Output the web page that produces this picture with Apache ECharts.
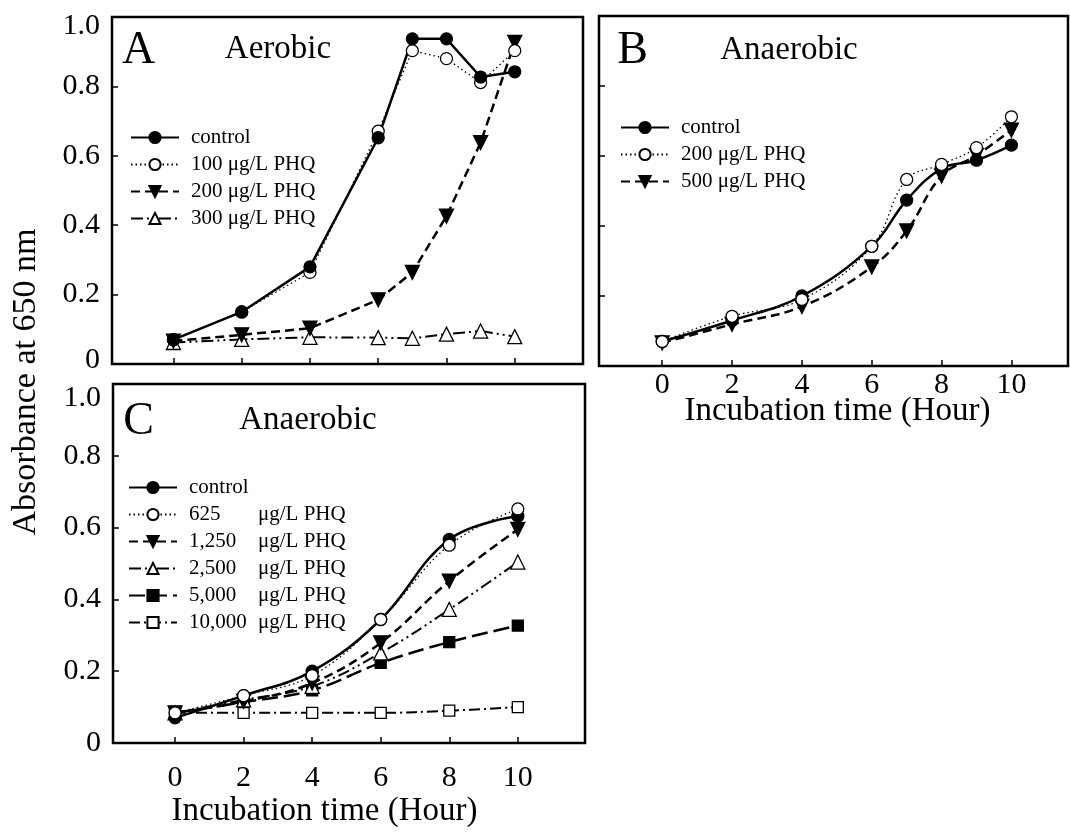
<!DOCTYPE html>
<html>
<head>
<meta charset="utf-8">
<script src="https://cdn.jsdelivr.net/npm/echarts@6/dist/echarts.min.js"></script>
<style>
  html, body { margin: 0; padding: 0; background: #fff; }
  #chart { width: 1070px; height: 832px; }
</style>
</head>
<body>
<div id="chart"></div>
<script>
// Incubation hours sampled in each experiment
const hoursA = [0, 2, 4, 6, 7, 8, 9, 10];
const hoursB = [0, 2, 4, 6, 7, 8, 9, 10];
const hoursC = [0, 2, 4, 6, 8, 10];
const xTickValues = [0, 2, 4, 6, 8, 10];

// Panel A: aerobic growth (absorbance at 650 nm)
const aControl = [0.07, 0.15, 0.28, 0.652, 0.937, 0.937, 0.827, 0.842];
const a100     = [0.07, 0.15, 0.264, 0.671, 0.903, 0.88, 0.811, 0.903];
const a200     = [0.066, 0.084, 0.103, 0.185, 0.264, 0.426, 0.638, 0.927];
const a300     = [0.062, 0.071, 0.077, 0.076, 0.074, 0.086, 0.095, 0.079];

// Panel B: anaerobic growth
const bControl = [0.07, 0.13, 0.20, 0.342, 0.474, 0.564, 0.588, 0.631];
const b200     = [0.07, 0.142, 0.19, 0.342, 0.533, 0.576, 0.624, 0.712];
const b500     = [0.066, 0.119, 0.17, 0.283, 0.386, 0.543, 0.602, 0.674];

// Panel C: anaerobic growth at higher doses
const cControl = [0.07, 0.132, 0.20, 0.344, 0.567, 0.632];
const c625     = [0.084, 0.132, 0.188, 0.344, 0.551, 0.652];
const c1250    = [0.084, 0.116, 0.167, 0.279, 0.451, 0.595];
const c2500    = [0.084, 0.12, 0.158, 0.251, 0.372, 0.504];
const c5000    = [0.084, 0.114, 0.147, 0.223, 0.281, 0.327];
const c10000   = [0.084, 0.084, 0.084, 0.084, 0.09, 0.10];

// Legend labels
const legendA = ['control', '100 μg/L PHQ', '200 μg/L PHQ', '300 μg/L PHQ'];
const legendB = ['control', '200 μg/L PHQ', '500 μg/L PHQ'];
const legendC = ['control', '625', '1,250', '2,500', '5,000', '10,000'];
const doseUnit = 'μg/L PHQ';

const FONT = '"Liberation Serif", "Times New Roman", serif';

// Marker / line styles
const S = {
  ctrl:   { symbol: 'circle', size: 12, fill: '#000', width: 2.5, type: 'solid' },
  dot:    { symbol: 'circle', size: 12, fill: '#fff', width: 1.3, type: [1.5, 3] },
  dash:   { symbol: 'triangle', size: 14, rotate: 180, fill: '#000', width: 2.5, type: [9, 5] },
  dashdd: { symbol: 'triangle', size: 14, fill: '#fff', width: 2, type: [12, 4, 2, 4, 2, 4] },
  long:   { symbol: 'rect', size: 11, fill: '#000', width: 2.5, type: [16, 6] },
  dashd:  { symbol: 'rect', size: 11, fill: '#fff', width: 2, type: [11, 4, 2, 4] }
};

function series(name, idx, hours, values, st, smooth) {
  return {
    type: 'line',
    name: name,
    xAxisIndex: idx,
    yAxisIndex: idx,
    data: hours.map((h, i) => [h, values[i]]),
    smooth: smooth ? 0.4 : false,
    symbol: st.symbol,
    symbolSize: st.size,
    symbolRotate: st.rotate || 0,
    showAllSymbol: true,
    itemStyle: { color: st.fill, borderColor: '#000', borderWidth: 1.3 },
    lineStyle: { color: '#000', width: st.width, type: st.type },
    emphasis: { disabled: true },
    silent: true
  };
}

const gridStyle = { show: true, borderColor: '#000', borderWidth: 2.5, backgroundColor: 'transparent' };
const grids = [
  Object.assign({ left: 112, top: 17, width: 471, height: 347 }, gridStyle),
  Object.assign({ left: 599, top: 16, width: 469, height: 350 }, gridStyle),
  Object.assign({ left: 113, top: 384, width: 472, height: 359 }, gridStyle)
];

function xAxis(idx, min, max, showLabels, margin) {
  return {
    type: 'value', gridIndex: idx, min: min, max: max, position: 'bottom',
    axisLine: { show: false, onZero: false },
    splitLine: { show: false },
    axisTick: { show: true, inside: true, length: 6, customValues: xTickValues,
                lineStyle: { color: '#000', width: 1.5 } },
    axisLabel: { show: showLabels, customValues: xTickValues, margin: margin,
                 color: '#000', fontFamily: FONT, fontSize: 30 }
  };
}

function yAxis(idx, showLabels, topPad, zeroPad) {
  return {
    type: 'value', gridIndex: idx, min: 0, max: 1, interval: 0.2, position: 'left',
    axisLine: { show: false, onZero: false },
    splitLine: { show: false },
    axisTick: { show: true, inside: true, length: 6, lineStyle: { color: '#000', width: 1.5 } },
    axisLabel: {
      show: showLabels, margin: 12, color: '#000', fontFamily: FONT, fontSize: 30,
      formatter: v => v === 0 ? '{z|0}' : (v === 1 ? '{t|1.0}' : v.toFixed(1)),
      rich: {
        t: { fontFamily: FONT, fontSize: 30, color: '#000', padding: [topPad, 0, 0, 0] },
        z: { fontFamily: FONT, fontSize: 30, color: '#000', padding: [0, 0, zeroPad, 0] }
      }
    }
  };
}

function legend(idx, names, left, top, rich) {
  return {
    show: true, orient: 'vertical', left: left, top: top, padding: 0,
    itemWidth: 48, itemHeight: 14, itemGap: 6, selectedMode: false,
    data: names,
    formatter: name => {
      const label = name.split('|')[1];
      if (rich && label !== 'control') return '{n|' + label + '}{u|' + doseUnit + '}';
      return label;
    },
    textStyle: {
      fontFamily: FONT, fontSize: 21, color: '#000', padding: [0, 0, 0, 7],
      rich: {
        n: { fontFamily: FONT, fontSize: 21, color: '#000', width: 69 },
        u: { fontFamily: FONT, fontSize: 21, color: '#000' }
      }
    }
  };
}

const nameA = legendA.map(l => 'A|' + l);
const nameB = legendB.map(l => 'B|' + l);
const nameC = legendC.map(l => 'C|' + l);

const allSeries = [
  series(nameA[3], 0, hoursA, a300, S.dashdd, false),
  series(nameA[2], 0, hoursA, a200, S.dash, false),
  series(nameA[1], 0, hoursA, a100, S.dot, false),
  series(nameA[0], 0, hoursA, aControl, S.ctrl, false),

  series(nameB[2], 1, hoursB, b500, S.dash, true),
  series(nameB[0], 1, hoursB, bControl, S.ctrl, true),
  series(nameB[1], 1, hoursB, b200, S.dot, true),

  series(nameC[5], 2, hoursC, c10000, S.dashd, true),
  series(nameC[4], 2, hoursC, c5000, S.long, true),
  series(nameC[3], 2, hoursC, c2500, S.dashdd, true),
  series(nameC[2], 2, hoursC, c1250, S.dash, true),
  series(nameC[0], 2, hoursC, cControl, S.ctrl, true),
  series(nameC[1], 2, hoursC, c625, S.dot, true)
];

function txt(text, x, y, size, rotation) {
  return {
    type: 'text', x: x, y: y, rotation: rotation || 0, silent: true,
    style: { text: text, fontFamily: FONT, fontSize: size, fill: '#000',
             align: 'center', verticalAlign: 'middle' }
  };
}

const option = {
  animation: false,
  backgroundColor: '#fff',
  grid: grids,
  xAxis: [
    xAxis(0, -1.8, 12.0, false, 4),
    xAxis(1, -1.81, 11.62, true, 4),
    xAxis(2, -1.81, 11.96, true, 20)
  ],
  yAxis: [
    yAxis(0, true, 18, 8),
    yAxis(1, false, 0, 0),
    yAxis(2, true, 29, 0)
  ],
  legend: [
    legend(0, nameA, 130, 127, false),
    legend(1, nameB, 620, 117, false),
    legend(2, nameC, 128, 477, true)
  ],
  series: allSeries,
  graphic: [
    txt('A', 138.5, 51, 46),
    txt('Aerobic', 278, 49, 33),
    txt('B', 632.5, 51, 46),
    txt('Anaerobic', 789, 50, 33),
    txt('C', 138.5, 422, 46),
    txt('Anaerobic', 308, 420, 33),
    txt('Incubation time (Hour)', 837.5, 411, 33),
    txt('Incubation time (Hour)', 324.5, 811, 33),
    txt('Absorbance at 650 nm', 26, 382, 34, Math.PI / 2)
  ]
};

const chart = echarts.init(document.getElementById('chart'), null, { renderer: 'canvas' });
chart.setOption(option);
</script>
</body>
</html>
